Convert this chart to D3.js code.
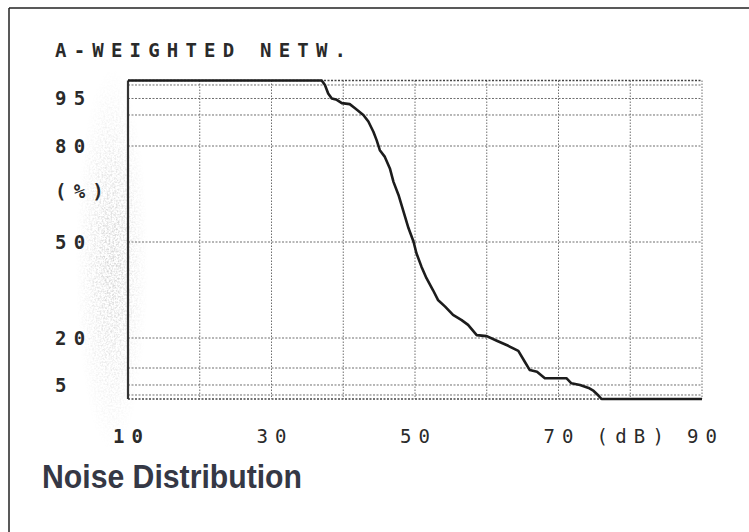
<!DOCTYPE html>
<html>
<head>
<meta charset="utf-8">
<script src="https://cdn.jsdelivr.net/npm/d3@7"></script>
<style>
  body { margin: 0; background: #fff; }
  svg { display: block; }
  .mono { font-family: "DejaVu Sans Mono", "Liberation Mono", monospace; }
</style>
</head>
<body>
<svg id="chart" width="749" height="532"></svg>
<script>
// level (dB) and cumulative percentage
var levels = [10, 37.0, 37.45, 37.9, 38.4, 39.1, 39.8, 40.9, 41.6, 42.8, 43.5, 44.2, 44.65, 45.1, 45.8, 46.5, 47.0, 47.7, 48.4, 49.1, 49.8, 50.2, 50.9, 51.6, 52.5, 53.2, 54.2, 55.3, 56.5, 57.4, 58.6, 60.0, 61.4, 63.0, 64.4, 65.3, 66.0, 67.0, 68.1, 70.0, 71.1, 71.8, 73.0, 74.2, 74.9, 75.6, 76.0, 90];
var percents = [100, 100, 99, 96.5, 95, 94.6, 93.6, 93.3, 92.1, 90, 87.9, 84.6, 81.9, 78.7, 76.6, 73, 68.8, 64.7, 59.5, 54.3, 50.1, 46.5, 42.3, 38.7, 35, 31.9, 29.8, 27.2, 25.6, 24.1, 20.9, 20.6, 19.1, 17.4, 15.7, 12.1, 9.4, 8.9, 7.0, 7.0, 7.0, 5.5, 5.0, 3.8, 2.6, 0.8, 0, 0];

var xGrid = [10, 20, 30, 40, 50, 60, 70, 80, 90];
var xLabels = ["10", "30", "50", "70", "(dB)", "90"];
var xLabelPos = [10, 30, 50, 70, 80, 90];
var yGrid = [100, 99, 95, 90, 80, 50, 20, 10, 5, 1, 0];
var yLabels = ["95", "80", "50", "20", "5"];
var title = "A-WEIGHTED NETW.";
var caption = "Noise Distribution";

var plotLeft = 128, plotRight = 702, plotTop = 80.5, plotBottom = 399;
var plotH = plotBottom - plotTop;

var svg = d3.select("#chart");

// scanner smudge beside the y labels
var defs = svg.append("defs");
var f = defs.append("filter").attr("id", "speckle")
    .attr("x", 0).attr("y", 0).attr("width", 1).attr("height", 1);
f.append("feTurbulence").attr("type", "fractalNoise")
    .attr("baseFrequency", 0.55).attr("numOctaves", 2).attr("seed", 4).attr("result", "n");
f.append("feColorMatrix").attr("in", "n").attr("type", "matrix")
    .attr("values", "0 0 0 0 0.5  0 0 0 0 0.5  0 0 0 0 0.5  0 0 0 -2.6 1.6").attr("result", "m");
f.append("feComposite").attr("in", "m").attr("in2", "SourceGraphic").attr("operator", "in");
var grad = defs.append("radialGradient").attr("id", "smudge");
grad.append("stop").attr("offset", "0%").attr("stop-color", "#000").attr("stop-opacity", 0.7);
grad.append("stop").attr("offset", "100%").attr("stop-color", "#000").attr("stop-opacity", 0);
svg.append("ellipse")
    .attr("cx", 112).attr("cy", 260).attr("rx", 36).attr("ry", 190)
    .attr("fill", "url(#smudge)")
    .attr("filter", "url(#speckle)");

// outer frame
svg.append("line").attr("x1", 9).attr("x2", 9).attr("y1", 8).attr("y2", 532)
    .attr("stroke", "#222").attr("stroke-width", 1.5);
svg.append("line").attr("x1", 9).attr("x2", 749).attr("y1", 8).attr("y2", 8)
    .attr("stroke", "#222").attr("stroke-width", 1.5);

var x = d3.scaleLinear().domain([10, 90]).range([plotLeft, plotRight]);
// non-uniform percentage axis, calibrated to the printed grid
var yFrac = [0, 0.0141, 0.0565, 0.1083, 0.2057, 0.5071, 0.8085, 0.9027, 0.9560, 0.9874, 1];
var y = d3.scaleLinear().domain(yGrid).range(yFrac.map(function (f) { return plotTop + f * plotH; }));

// grid
var grid = svg.append("g");
grid.selectAll(".vg").data(xGrid.slice(1)).enter().append("line")
    .attr("x1", function (d) { return x(d); }).attr("x2", function (d) { return x(d); })
    .attr("y1", plotTop).attr("y2", plotBottom)
    .attr("stroke", "#6f6f6f").attr("stroke-width", 1).attr("stroke-dasharray", "1.5,1.5");
grid.selectAll(".hg").data(yGrid).enter().append("line")
    .attr("x1", plotLeft).attr("x2", plotRight)
    .attr("y1", function (d) { return y(d); }).attr("y2", function (d) { return y(d); })
    .attr("stroke", function (d) { return (d === 0 || d === 100) ? "#444" : "#6f6f6f"; })
    .attr("stroke-width", function (d) { return (d === 0 || d === 100) ? 1.4 : 1; })
    .attr("stroke-dasharray", "2,1.5");

// left axis line
svg.append("line").attr("x1", plotLeft).attr("x2", plotLeft).attr("y1", plotTop).attr("y2", plotBottom)
    .attr("stroke", "#333").attr("stroke-width", 2.2);

// curve
var pts = levels.map(function (d, i) { return [d, percents[i]]; });
var line = d3.line()
    .x(function (d) { return x(d[0]); })
    .y(function (d) { return y(d[1]); });
svg.append("path").datum(pts)
    .attr("d", line)
    .attr("fill", "none")
    .attr("stroke", "#1c1c1c")
    .attr("stroke-width", 2.6)
    .attr("stroke-linejoin", "round");

// texts
var fs = 19, ls = 7.2;
svg.append("text").attr("class", "mono")
    .attr("x", 55).attr("y", 57)
    .attr("font-size", fs).attr("font-weight", "bold")
    .attr("letter-spacing", ls).attr("fill", "#2a2a2a")
    .text(title);

svg.selectAll(".ylab").data(yLabels).enter().append("text")
    .attr("class", "mono")
    .attr("x", 55)
    .attr("y", function (d) { return y(+d) + 7; })
    .attr("font-size", fs).attr("font-weight", "bold")
    .attr("letter-spacing", ls).attr("fill", "#2a2a2a")
    .text(function (d) { return d; });

svg.append("text").attr("class", "mono")
    .attr("x", 55).attr("y", 198)
    .attr("font-size", fs).attr("font-weight", "bold")
    .attr("letter-spacing", ls).attr("fill", "#2a2a2a")
    .text("(%)");

svg.selectAll(".xlab").data(xLabels).enter().append("text")
    .attr("class", "mono")
    .attr("x", function (d, i) { return x(xLabelPos[i]) + ls / 2; })
    .attr("y", 443)
    .attr("text-anchor", "middle")
    .attr("font-size", fs).attr("font-weight", function (d, i) { return i === 0 ? "bold" : "normal"; })
    .attr("letter-spacing", ls).attr("fill", "#2a2a2a")
    .text(function (d) { return d; });

svg.append("text")
    .attr("x", 42).attr("y", 488)
    .attr("font-family", "'Liberation Sans', Arial, sans-serif")
    .attr("font-size", 33).attr("font-weight", "bold")
    .attr("textLength", 260).attr("lengthAdjust", "spacingAndGlyphs")
    .attr("fill", "#353845")
    .text(caption);
</script>
</body>
</html>
